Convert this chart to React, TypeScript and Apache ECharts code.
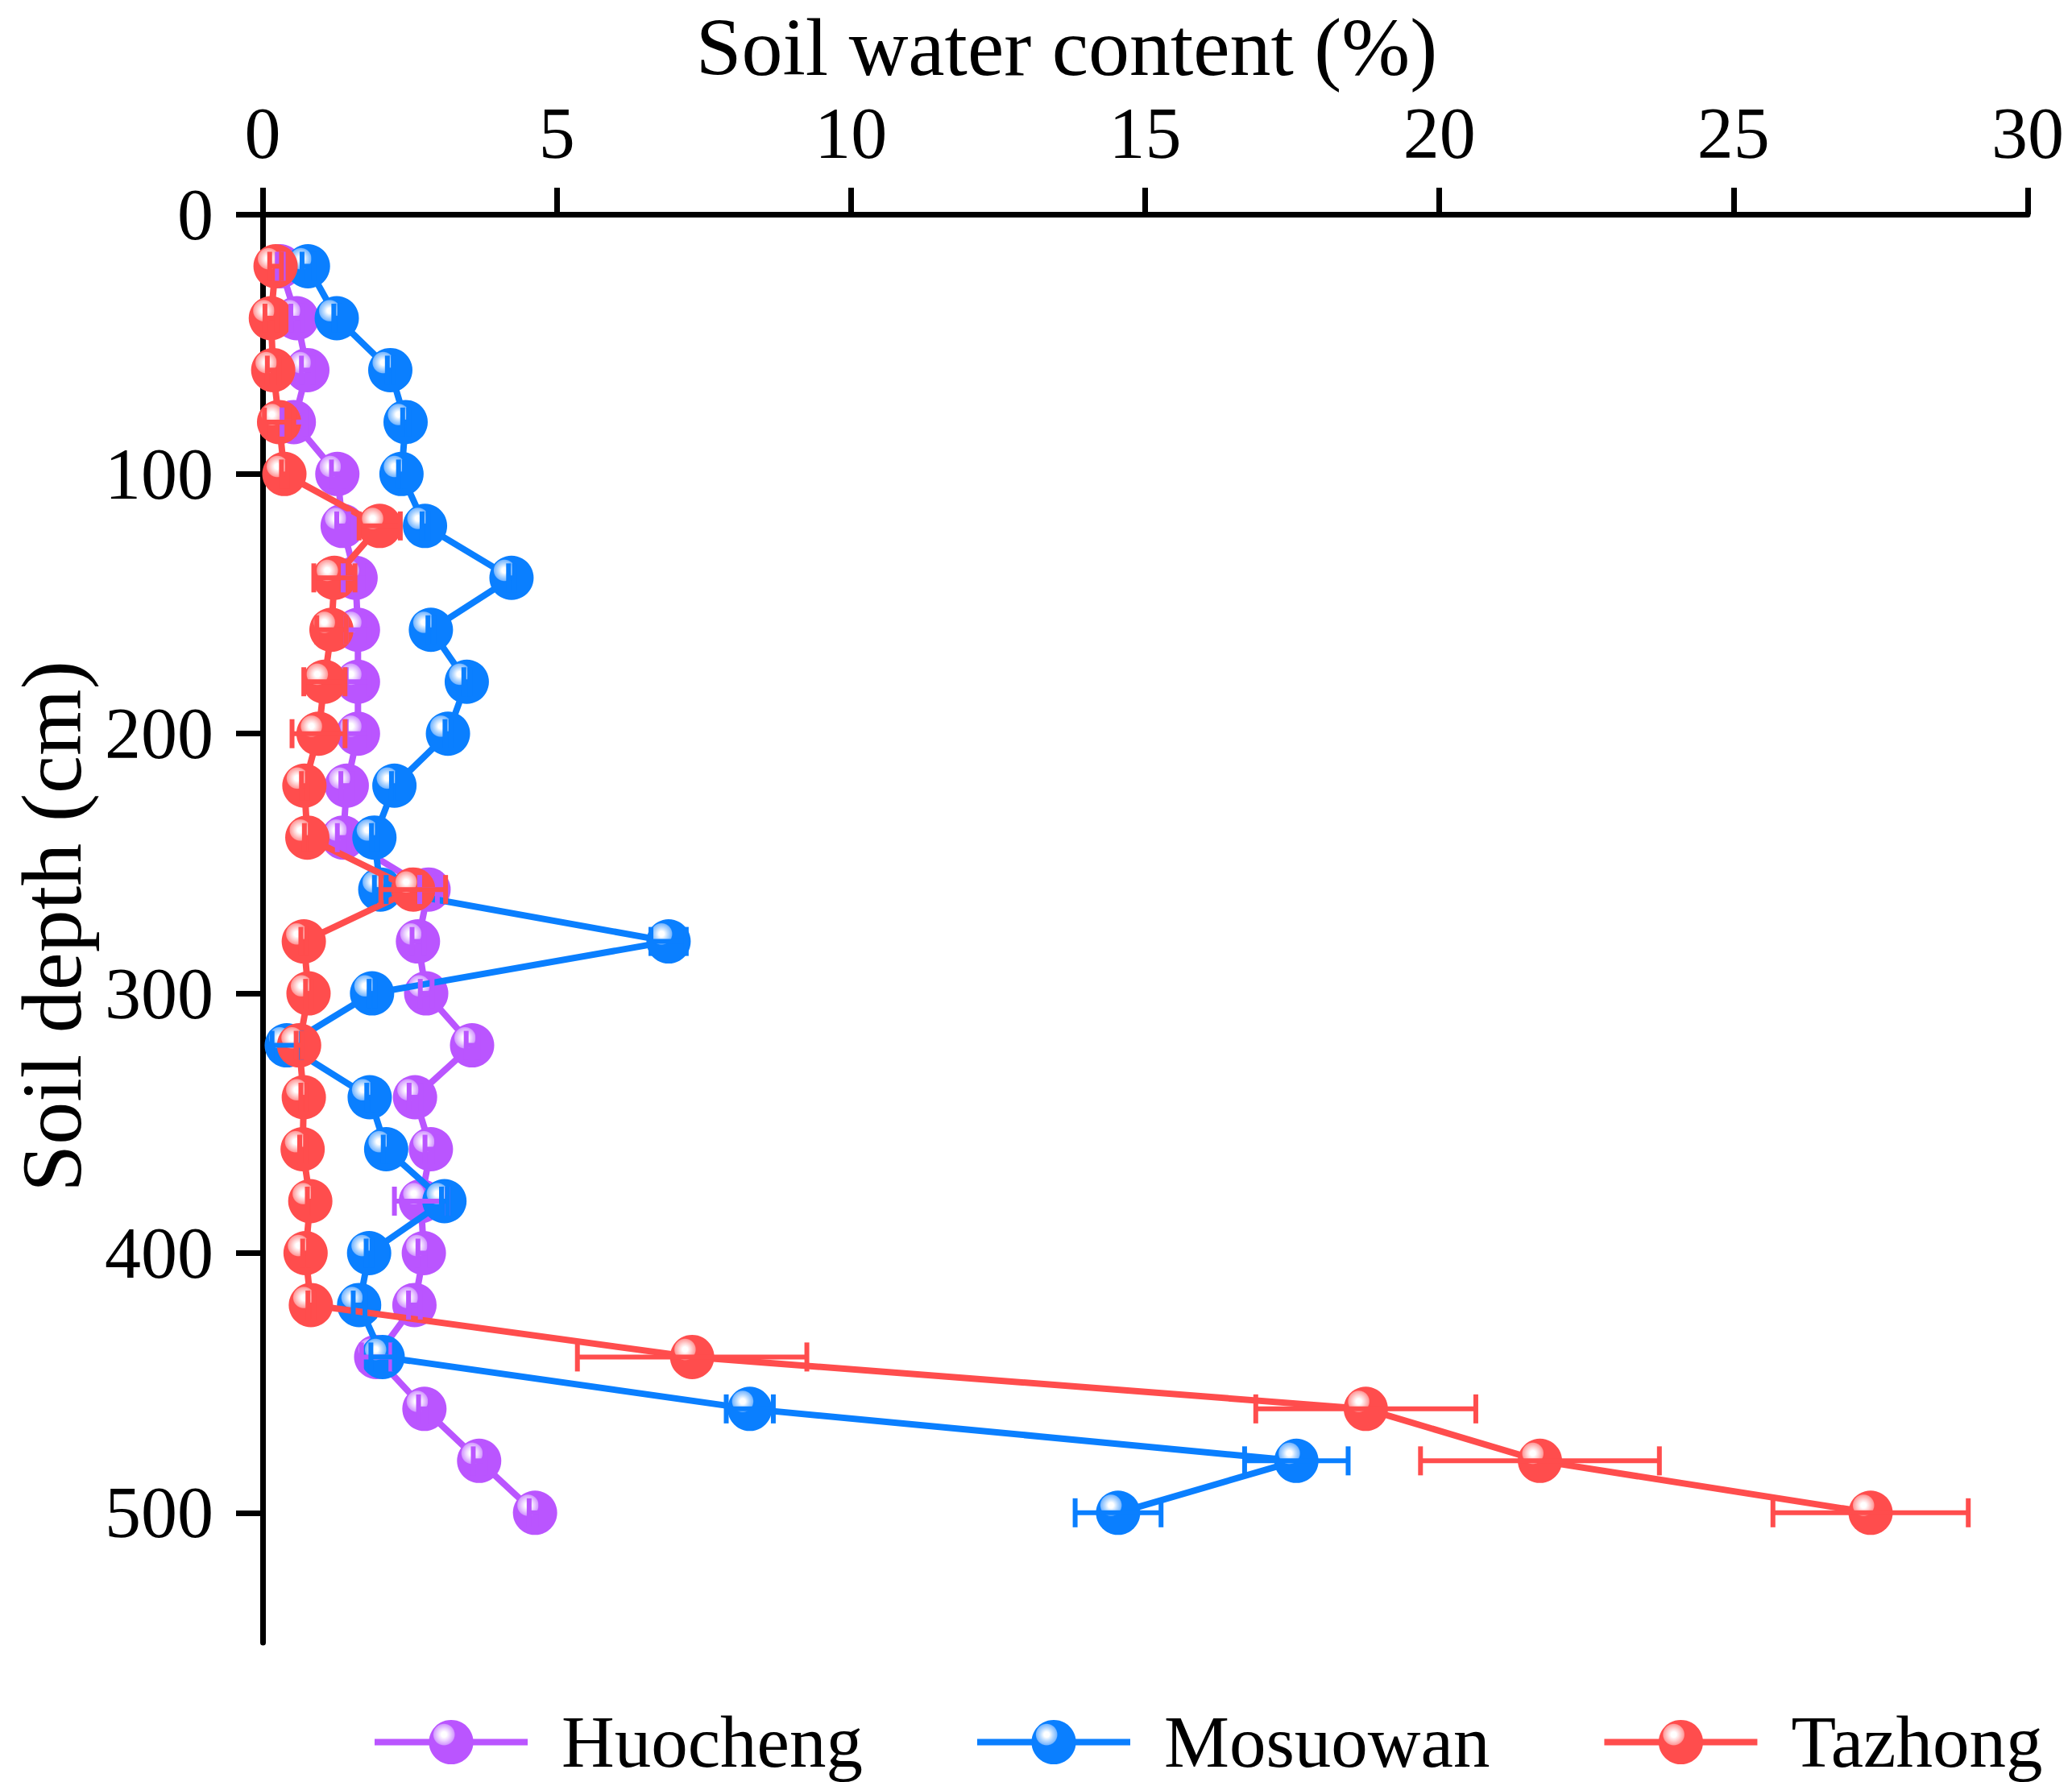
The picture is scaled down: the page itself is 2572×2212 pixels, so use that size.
import React, { useEffect, useRef } from "react";
import * as echarts from "echarts";

const depths = [20, 40, 60, 80, 100, 120, 140, 160, 180, 200, 220, 240, 260, 280, 300, 320, 340, 360, 380, 400, 420, 440, 460, 480, 500];

const huocheng = [0.30, 0.58, 0.76, 0.53, 1.27, 1.36, 1.58, 1.62, 1.62, 1.62, 1.43, 1.37, 2.82, 2.64, 2.78, 3.56, 2.59, 2.86, 2.69, 2.74, 2.58, 1.93, 2.75, 3.68, 4.63];
const huochengErr = [0.05, 0.1, 0.1, 0.2, 0.1, 0.1, 0.21, 0.2, 0.2, 0.2, 0.1, 0.1, 0.15, 0.1, 0.1, 0.1, 0.1, 0.1, 0.45, 0.1, 0.1, 0.25, 0.1, 0.1, 0.1];

const mosuowan = [0.77, 1.26, 2.17, 2.43, 2.36, 2.76, 4.23, 2.86, 3.47, 3.15, 2.24, 1.90, 2.00, 6.90, 1.86, 0.41, 1.82, 2.10, 3.09, 1.81, 1.64, 2.04, 8.28, 17.57, 14.54];
const mosuowanErr = [0.1, 0.05, 0.05, 0.05, 0.05, 0.05, 0.05, 0.05, 0.05, 0.05, 0.05, 0.05, 0.1, 0.3, 0.05, 0.25, 0.05, 0.05, 0.05, 0.05, 0.1, 0.2, 0.4, 0.88, 0.73];

const tazhong = [0.22, 0.14, 0.18, 0.28, 0.37, 1.99, 1.22, 1.17, 1.05, 0.95, 0.71, 0.76, 2.56, 0.70, 0.78, 0.62, 0.70, 0.68, 0.81, 0.73, 0.82, 7.30, 18.75, 21.71, 27.33];
const tazhongErr = [0.1, 0.1, 0.1, 0.25, 0.05, 0.35, 0.35, 0.25, 0.35, 0.45, 0.05, 0.05, 0.55, 0.05, 0.05, 0.05, 0.05, 0.05, 0.05, 0.05, 0.05, 1.95, 1.87, 2.03, 1.66];

const xTicks = [0, 5, 10, 15, 20, 25, 30];
const yTicks = [0, 100, 200, 300, 400, 500];

const siteNames = ["Huocheng", "Mosuowan", "Tazhong"];
const siteColors = ["#BA55FF", "#0A7FFF", "#FF4D4D"];
const siteHighlights = [
  ["#ffffff", "#ecd2ff", "#d49bff"],
  ["#ffffff", "#bcdcff", "#7ab8ff"],
  ["#ffffff", "#ffd2d2", "#ff9c9c"],
];

const FONT = "'Liberation Serif', 'Times New Roman', serif";

function sphere(i: number) {
  const h = siteHighlights[i];
  return new echarts.graphic.RadialGradient(0.34, 0.33, 0.5, [
    { offset: 0, color: h[0] },
    { offset: 0.12, color: h[0] },
    { offset: 0.28, color: h[1] },
    { offset: 0.46, color: h[2] },
    { offset: 0.5, color: siteColors[i] },
    { offset: 1, color: siteColors[i] },
  ]);
}

export default function App() {
  const ref = useRef<HTMLDivElement>(null);
  useEffect(() => {
    if (!ref.current) return;
    const chart = echarts.init(ref.current, null, { renderer: "svg" });
    const values = [huocheng, mosuowan, tazhong];
    const errs = [huochengErr, mosuowanErr, tazhongErr];

    const lineSeries = values.map((vals, i) => ({
      name: siteNames[i],
      type: "line",
      data: vals.map((v, k) => [v, depths[k]]),
      symbol: "circle",
      symbolSize: 55,
      showSymbol: true,
      color: siteColors[i],
      lineStyle: { color: siteColors[i], width: 8 },
      itemStyle: { color: sphere(i), borderWidth: 0 },
      z: 2 + i,
      emphasis: { disabled: true },
    }));

    const errSeries = values.map((vals, i) => ({
      name: siteNames[i] + " error",
      type: "custom",
      data: vals.map((v, k) => [v - errs[i][k], v + errs[i][k], depths[k]]),
      encode: { x: [0, 1], y: 2 },
      z: 10,
      silent: true,
      renderItem: (params: any, api: any) => {
        const y = api.value(2);
        const p1 = api.coord([api.value(0), y]);
        const p2 = api.coord([api.value(1), y]);
        const h = 18;
        const st = { stroke: siteColors[i], lineWidth: 6 };
        return {
          type: "group",
          children: [
            { type: "line", shape: { x1: p1[0], y1: p1[1], x2: p2[0], y2: p2[1] }, style: st },
            { type: "line", shape: { x1: p1[0], y1: p1[1] - h, x2: p1[0], y2: p1[1] + h }, style: st },
            { type: "line", shape: { x1: p2[0], y1: p2[1] - h, x2: p2[0], y2: p2[1] + h }, style: st },
          ],
        };
      },
    }));

    chart.setOption({
      animation: false,
      backgroundColor: "#ffffff",
      grid: { left: 326, right: 55, top: 266, bottom: 173, containLabel: false },
      xAxis: {
        type: "value",
        position: "top",
        min: 0,
        max: 30,
        interval: 5,
        axisLine: { show: true, onZero: false, lineStyle: { color: "#000", width: 7 } },
        axisTick: { show: true, length: 33, lineStyle: { color: "#000", width: 7 }, customValues: xTicks },
        axisLabel: { fontSize: 90, fontFamily: FONT, color: "#000", margin: 56, customValues: xTicks },
        splitLine: { show: false },
      },
      yAxis: {
        type: "value",
        inverse: true,
        min: 0,
        max: 550,
        interval: 100,
        axisLine: { show: true, onZero: false, lineStyle: { color: "#000", width: 7 } },
        axisTick: { show: true, length: 33, lineStyle: { color: "#000", width: 7 }, customValues: yTicks },
        axisLabel: { fontSize: 90, fontFamily: FONT, color: "#000", margin: 61, customValues: yTicks },
        splitLine: { show: false },
      },
      legend: {
        data: siteNames,
        left: 456,
        top: 2112,
        orient: "horizontal",
        itemWidth: 190,
        itemHeight: 69,
        itemGap: 138,
        selectedMode: false,
        lineStyle: { width: 8 },
        textStyle: { fontSize: 91, fontFamily: FONT, color: "#000", padding: [0, 0, 0, 37] },
      },
      graphic: [
        {
          type: "text",
          x: 1324,
          y: 58,
          style: {
            text: "Soil water content (%)",
            fontSize: 102,
            fontFamily: FONT,
            fill: "#000",
            textAlign: "center",
            textVerticalAlign: "middle",
          },
        },
        {
          type: "text",
          x: 64,
          y: 1150,
          rotation: Math.PI / 2,
          style: {
            text: "Soil depth (cm)",
            fontSize: 106,
            fontFamily: FONT,
            fill: "#000",
            textAlign: "center",
            textVerticalAlign: "middle",
          },
        },
      ],
      series: [...lineSeries, ...errSeries],
    });
    return () => chart.dispose();
  }, []);
  return (
    <div
      ref={ref}
      style={{ position: "absolute", left: 0, top: 0, width: 2572, height: 2212, background: "#fff" }}
    />
  );
}
